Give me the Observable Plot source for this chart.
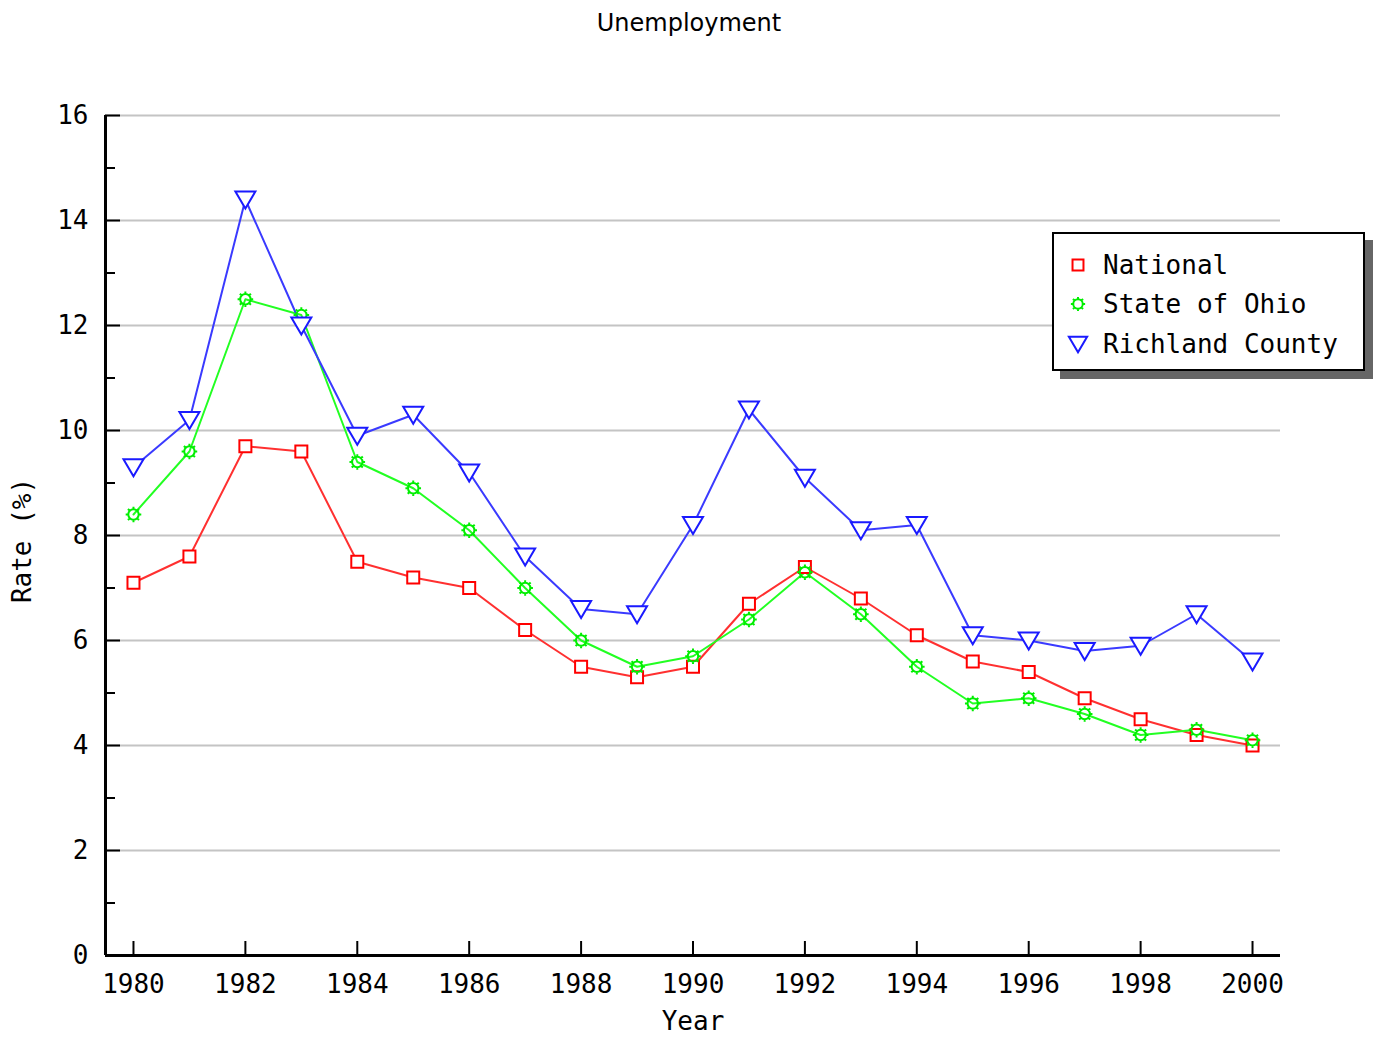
<!DOCTYPE html>
<html>
<head>
<meta charset="utf-8">
<script src="https://cdn.jsdelivr.net/npm/d3@7"></script>
<script src="https://cdn.jsdelivr.net/npm/@observablehq/plot@0.6"></script>
<style>
  body { margin: 0; background: #fff; }
  #wrap { position: relative; width: 1378px; height: 1038px; background: #fff; overflow: hidden; }
  #title { position: absolute; top: 7px; left: 0; width: 1378px; text-align: center;
           font-family: "DejaVu Sans", sans-serif; font-size: 24px; line-height: 32px; color: #000; }
  #chart { position: absolute; top: 40px; left: 0; }
  #legend { position: absolute; left: 1052px; top: 232px; width: 313px; height: 139px; box-sizing: border-box;
            border: 2px solid #000; background: #fff; box-shadow: 8px 8px 0 #666; padding-top: 11px; }
  .row { display: flex; align-items: center; height: 39.5px; }
  .row svg { width: 26px; height: 26px; margin-left: 11px; flex: none; }
  .row span { margin-left: 12px; font-family: "DejaVu Sans Mono", monospace; font-size: 26px; color: #000; white-space: nowrap; }
</style>
</head>
<body>
<div id="wrap">
  <div id="title"></div>
  <div id="chart"></div>
  <div id="legend"></div>
</div>
<script>
// ---- data ----
const title = "Unemployment";
const xLabel = "Year";
const yLabel = "Rate (%)";
const years = [1980,1981,1982,1983,1984,1985,1986,1987,1988,1989,1990,1991,1992,1993,1994,1995,1996,1997,1998,1999,2000];
const seriesNames = ["National", "State of Ohio", "Richland County"];
const national = [7.1,7.6,9.7,9.6,7.5,7.2,7.0,6.2,5.5,5.3,5.5,6.7,7.4,6.8,6.1,5.6,5.4,4.9,4.5,4.2,4.0];
const ohio     = [8.4,9.6,12.5,12.2,9.4,8.9,8.1,7.0,6.0,5.5,5.7,6.4,7.3,6.5,5.5,4.8,4.9,4.6,4.2,4.3,4.1];
const richland = [9.3,10.2,14.4,12.0,9.9,10.3,9.2,7.6,6.6,6.5,8.2,10.4,9.1,8.1,8.2,6.1,6.0,5.8,5.9,6.5,5.6];
const xTicks = [1980,1982,1984,1986,1988,1990,1992,1994,1996,1998,2000];
const yTicks = [0,2,4,6,8,10,12,14,16];
const yMinorTicks = [1,3,5,7,9,11,13,15];
const yGrid = [2,4,6,8,10,12,14,16];
const xDomain = [1979.5, 2000.5];
const yDomain = [0, 16];
const colors = ["#ff0000", "#00ee00", "#1a1aff"];
const lineColors = ["#ff3030", "#22ff22", "#3a3aff"];

// ---- custom symbols ----
const rOf = size => Math.sqrt(size / Math.PI) / 6;
const squareSym = { draw(ctx, size) { const k = rOf(size); ctx.moveTo(-6*k,-6*k); ctx.lineTo(6*k,-6*k); ctx.lineTo(6*k,6*k); ctx.lineTo(-6*k,6*k); ctx.closePath(); } };
const sunSym = { draw(ctx, size) {
  const k = rOf(size); const r = 5.2*k;
  ctx.moveTo(r, 0); ctx.arc(0, 0, r, 0, 2*Math.PI);
  for (let i = 0; i < 8; i++) { const a = i*Math.PI/4; ctx.moveTo(Math.cos(a)*r, Math.sin(a)*r); ctx.lineTo(Math.cos(a)*7.8*k, Math.sin(a)*7.8*k); }
} };
const triSym = { draw(ctx, size) { const k = rOf(size); ctx.moveTo(-10*k,-8*k); ctx.lineTo(10*k,-8*k); ctx.lineTo(0,9*k); ctx.closePath(); } };
const symbols = [squareSym, sunSym, triSym];
const fills = ["white", "none", "white"];

const seriesValues = [national, ohio, richland];
const data = seriesValues.map((vals, s) => years.map((y, i) => ({year: y, value: vals[i], series: seriesNames[s]})));

document.getElementById("title").textContent = title;

const W = 1378, H = 998, mL = 105, mR = 98, mT = 75, mB = 83;
const plotW = W - mL - mR, plotH = H - mT - mB;
const mono = "DejaVu Sans Mono, monospace";

const marks = [
  Plot.ruleY(yGrid, {y: d => d, stroke: "#c4c4c4", strokeWidth: 2}),
  Plot.tickY(yTicks, {y: d => d, insetRight: plotW - 15, stroke: "#000", strokeWidth: 2}),
  Plot.tickY(yMinorTicks, {y: d => d, insetRight: plotW - 10, stroke: "#000", strokeWidth: 2}),
  Plot.tickX(xTicks, {x: d => d, insetTop: plotH - 14, stroke: "#000", strokeWidth: 2}),
  Plot.ruleY([yDomain[0]], {stroke: "#000", strokeWidth: 3}),
  Plot.ruleX([xDomain[0]], {stroke: "#000", strokeWidth: 3}),
  Plot.axisY({ticks: yTicks, tickSize: 0, tickPadding: 17, label: null, fontSize: 26, fontFamily: mono, tickFormat: d => String(d)}),
  Plot.axisX({ticks: xTicks, tickSize: 0, tickPadding: 19, label: null, fontSize: 26, fontFamily: mono, tickFormat: d => String(d)}),
  Plot.text([xLabel], {frameAnchor: "bottom", dy: 74, text: d => d, textAnchor: "middle", fontSize: 26, fontFamily: mono, fill: "#000"}),
  Plot.text([yLabel], {frameAnchor: "left", dx: -83, dy: 5, rotate: -90, text: d => d, textAnchor: "middle", fontSize: 26, fontFamily: mono, fill: "#000"})
];
data.forEach((d, s) => {
  marks.push(Plot.line(d, {x: "year", y: "value", stroke: lineColors[s], strokeWidth: 2}));
});
data.forEach((d, s) => {
  marks.push(Plot.dot(d, {x: "year", y: "value", symbol: symbols[s], r: 6, stroke: colors[s], fill: fills[s], strokeWidth: 2}));
});

const chart = Plot.plot({
  width: W, height: H,
  marginLeft: mL, marginRight: mR, marginTop: mT, marginBottom: mB,
  x: {domain: xDomain, axis: null},
  y: {domain: yDomain, axis: null},
  style: {background: "white", color: "#000", fontFamily: mono, fontSize: "26px", overflow: "visible"},
  marks
});
document.getElementById("chart").appendChild(chart);

// ---- legend ----
const legend = document.getElementById("legend");
seriesNames.forEach((name, s) => {
  const row = document.createElement("div");
  row.className = "row";
  const svg = d3.create("svg").attr("viewBox", "-13 -13 26 26");
  svg.append("path")
    .attr("d", d3.symbol(symbols[s], Math.PI * 30)())
    .attr("fill", fills[s]).attr("stroke", colors[s]).attr("stroke-width", 2);
  row.appendChild(svg.node());
  const span = document.createElement("span");
  span.textContent = name;
  row.appendChild(span);
  legend.appendChild(row);
});
</script>
</body>
</html>
